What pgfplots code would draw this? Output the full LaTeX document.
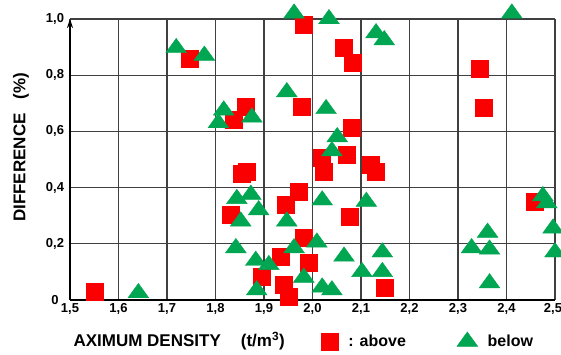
\documentclass[border=0pt]{standalone}
\usepackage{fontspec}
\setmainfont{Liberation Sans}
\usepackage{pgfplots}
\pgfplotsset{compat=1.18}
\usetikzlibrary{arrows.meta}
\definecolor{myred}{RGB}{250,0,0}
\definecolor{mygreen}{RGB}{0,166,81}
\begin{document}
\begin{tikzpicture}[x=1pt,y=1pt]
\path[use as bounding box] (-70,-55) rectangle (491,300);
\begin{axis}[
  scale only axis, width=485pt, height=281pt,
  at={(0,0)}, anchor=south west,
  xmin=1.5, xmax=2.5, ymin=0, ymax=1,
  axis x line=bottom, axis y line=left,
  x axis line style={-, line width=1.6pt},
  y axis line style={-{Stealth[length=9pt,width=6pt]}, line width=1.6pt},
  grid=major, grid style={line width=1.2pt, color=black!75},
  xtick={1.5,1.6,1.7,1.8,1.9,2.0,2.1,2.2,2.3,2.4,2.5},
  xticklabels={{1,5},{1,6},{1,7},{1,8},{1,9},{2,0},{2,1},{2,2},{2,3},{2,4},{\hspace*{-4pt}2,5}},
  ytick={0,0.2,0.4,0.6,0.8,1.0},
  yticklabels={0,{0,2},{0,4},{0,6},{0,8},{1,0}},
  major tick length=0pt,
  tick label style={font=\bfseries\fontsize{13}{13}\selectfont},
  yticklabel style={anchor=center, xshift=-15pt},
  clip=false,
  xlabel={AXIMUM DENSITY\hspace{20pt}(t/m\textsuperscript{3})},
  xlabel style={at={(rel axis cs:0,-0.146)}, anchor=west, font=\bfseries\fontsize{17}{17}\selectfont},
  ylabel={DIFFERENCE\hspace{14pt}(\%)},
  ylabel style={at={(rel axis cs:-0.101,0.543)}, anchor=center, font=\bfseries\fontsize{17}{17}\selectfont},
  legend columns=2,
  legend style={draw=none, fill=none, inner sep=0pt,
    at={(rel axis cs:0.518,-0.146)}, anchor=west,
    font=\bfseries\fontsize{16}{16}\selectfont,
    /tikz/every odd column/.append style={column sep=8pt},
    /tikz/every even column/.append style={column sep=49pt}},
]
\addplot[only marks, mark=square*, mark size=8.5pt, color=myred, mark options={draw=myred, fill=myred}]
coordinates {
(1.550,0.028) (1.746,0.858) (1.982,0.979) (2.065,0.897) (2.082,0.843)
(1.862,0.687) (1.837,0.640) (1.978,0.687) (2.080,0.612)
(2.018,0.505) (2.071,0.516) (2.024,0.456) (2.121,0.480) (2.131,0.456)
(1.855,0.450) (1.865,0.456)
(1.972,0.384) (1.945,0.338) (1.831,0.302) (2.076,0.295) (1.982,0.221)
(1.935,0.153) (1.993,0.132) (1.895,0.082) (1.941,0.053) (1.951,0.011)
(2.148,0.043) (2.345,0.822) (2.353,0.683) (2.459,0.349)
};
\addlegendentry{: above}
\addplot[only marks, mark=triangle*, mark size=12pt, color=mygreen, mark options={draw=mygreen, fill=mygreen, yscale=0.8}]
coordinates {
(1.641,0.025) (1.719,0.897) (1.777,0.870) (1.962,1.020) (2.034,1.000)
(2.131,0.950) (2.148,0.925) (2.411,1.020)
(1.947,0.740) (2.028,0.680) (1.817,0.675) (1.806,0.630) (1.875,0.650)
(2.051,0.580) (2.040,0.530)
(1.844,0.360) (1.873,0.375) (2.020,0.355) (2.111,0.350)
(1.889,0.320) (1.852,0.280) (1.947,0.280)
(2.009,0.205) (1.842,0.185) (1.962,0.185) (2.065,0.155) (2.144,0.170)
(1.883,0.140) (1.910,0.125) (2.102,0.100) (2.144,0.100)
(1.982,0.080) (1.885,0.035) (2.020,0.045) (2.040,0.035)
(2.361,0.240) (2.328,0.185) (2.365,0.180) (2.365,0.060)
(2.475,0.370) (2.483,0.345) (2.496,0.255) (2.500,0.170)
};
\addlegendentry{below}
\end{axis}
\end{tikzpicture}
\end{document}
